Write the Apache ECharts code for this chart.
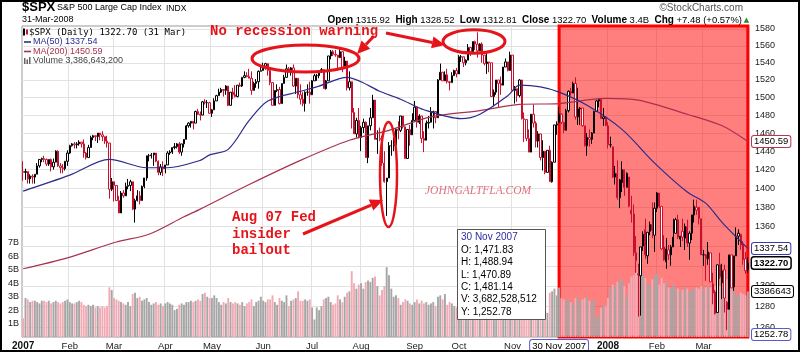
<!DOCTYPE html>
<html>
<head>
<meta charset="utf-8">
<script src="https://cdn.jsdelivr.net/npm/echarts@6/dist/echarts.min.js"></script>
<style>
  html, body { margin: 0; padding: 0; background: #fff; }
  #chart { width: 800px; height: 352px; }
</style>
</head>
<body>
<div id="chart"></div>
<script>
// market holidays inside the range, used to build the trading-day categories
const holidays = ['2007-01-15', '2007-02-19', '2007-04-06', '2007-05-28', '2007-07-04', '2007-09-03',
  '2007-11-22', '2007-12-25', '2008-01-01', '2008-01-21', '2008-02-18', '2008-03-21']
const firstDay = '2007-01-03'
const lastDay = '2008-03-31'
const monthNames = ['Jan', 'Feb', 'Mar', 'Apr', 'May', 'Jun', 'Jul', 'Aug', 'Sep', 'Oct', 'Nov', 'Dec']

const prevClose = 1418.3 // close of 29 Dec 2006, for the first bar colour

// daily [open, high, low, close]
const ohlc = [
  // Jan 2007
  [1418,1429,1408,1417],[1417,1421,1409,1418],[1418,1418,1405,1410],[1410,1415,1405,1413],[1413,1415,1405,1412],
  [1412,1415,1405,1415],[1415,1427,1415,1424],[1424,1431,1422,1431],[1431,1433,1428,1432],[1432,1435,1428,1431],
  [1431,1432,1424,1426],[1426,1431,1424,1431],[1431,1432,1418,1423],[1423,1432,1420,1428],[1428,1441,1428,1440],
  [1440,1441,1423,1424],[1424,1427,1416,1422],[1422,1426,1416,1421],[1421,1429,1419,1429],[1429,1441,1424,1438],
  // Feb
  [1438,1447,1437,1446],[1446,1449,1445,1448],[1448,1450,1443,1447],[1447,1450,1443,1448],[1448,1452,1446,1450],
  [1450,1450,1444,1448],[1448,1453,1433,1438],[1438,1439,1431,1433],[1433,1447,1433,1444],[1444,1457,1444,1455],
  [1455,1458,1452,1457],[1457,1457,1451,1456],[1456,1460,1449,1460],[1460,1460,1452,1458],[1458,1462,1451,1456],
  [1456,1456,1448,1451],[1451,1457,1444,1449],[1449,1449,1389,1399],[1399,1411,1397,1407],
  // Mar
  [1407,1407,1386,1403],[1403,1403,1387,1387],[1387,1392,1374,1374],[1374,1397,1374,1395],[1395,1398,1390,1392],
  [1392,1406,1392,1402],[1402,1410,1399,1403],[1403,1409,1397,1407],[1407,1407,1377,1378],[1378,1389,1364,1387],
  [1387,1398,1386,1392],[1392,1397,1383,1387],[1387,1403,1387,1402],[1402,1411,1400,1411],[1411,1435,1408,1435],
  [1435,1437,1429,1435],[1435,1438,1432,1436],[1436,1438,1424,1438],[1438,1438,1428,1429],[1429,1430,1414,1417],
  [1417,1426,1414,1423],[1423,1429,1413,1421],
  // Apr
  [1421,1425,1416,1425],[1425,1440,1425,1438],[1438,1441,1436,1439],[1439,1444,1437,1444],[1444,1449,1442,1445],
  [1445,1449,1443,1448],[1448,1450,1437,1439],[1439,1448,1435,1448],[1448,1453,1444,1453],[1453,1469,1453,1468],
  [1468,1472,1466,1471],[1471,1473,1466,1473],[1473,1473,1464,1471],[1471,1485,1471,1484],[1484,1487,1480,1481],
  [1481,1484,1474,1480],[1480,1496,1480,1495],[1495,1498,1492,1494],[1494,1497,1488,1494],[1494,1495,1482,1482],
  // May
  [1482,1487,1478,1486],[1486,1499,1486,1496],[1496,1503,1496,1502],[1502,1510,1502,1506],[1506,1511,1505,1509],
  [1509,1509,1501,1508],[1508,1514,1503,1513],[1513,1513,1490,1491],[1491,1506,1491,1506],[1506,1511,1498,1503],
  [1503,1514,1500,1501],[1501,1514,1500,1514],[1514,1517,1512,1513],[1513,1523,1512,1523],[1523,1530,1522,1525],
  [1525,1529,1523,1524],[1524,1533,1522,1522],[1522,1530,1503,1508],[1508,1518,1508,1516],[1516,1521,1511,1518],
  [1518,1531,1510,1530],[1530,1536,1530,1531],
  // Jun
  [1531,1540,1531,1536],[1536,1540,1532,1539],[1539,1539,1525,1531],[1531,1531,1514,1517],[1517,1517,1491,1491],
  [1491,1508,1491,1508],[1508,1515,1506,1509],[1509,1512,1492,1493],[1493,1516,1493,1516],[1516,1526,1516,1523],
  [1523,1538,1523,1533],[1533,1535,1529,1531],[1531,1535,1525,1534],[1534,1538,1512,1513],[1513,1522,1504,1522],
  [1522,1522,1499,1503],[1503,1515,1492,1498],[1498,1506,1490,1493],[1493,1507,1484,1506],[1506,1515,1502,1506],
  [1506,1518,1493,1503],
  // Jul
  [1503,1520,1503,1519],[1519,1527,1519,1525],[1525,1527,1519,1525],[1525,1530,1522,1530],[1530,1534,1528,1532],
  [1532,1532,1510,1510],[1510,1520,1509,1519],[1519,1548,1519,1548],[1548,1555,1544,1553],[1553,1555,1548,1550],
  [1550,1555,1547,1549],[1549,1549,1533,1546],[1546,1556,1546,1553],[1553,1553,1529,1534],[1534,1547,1534,1542],
  [1542,1542,1508,1511],[1511,1530,1508,1518],[1518,1518,1465,1483],[1483,1488,1459,1459],[1459,1477,1455,1474],
  [1474,1488,1454,1455],
  // Aug
  [1455,1468,1440,1466],[1466,1476,1460,1472],[1472,1473,1433,1433],[1433,1468,1427,1468],[1468,1488,1463,1477],
  [1477,1503,1477,1497],[1497,1497,1453,1453],[1453,1463,1437,1454],[1454,1466,1451,1453],[1453,1457,1424,1427],
  [1427,1440,1406,1407],[1407,1411,1371,1411],[1411,1450,1411,1446],[1446,1452,1435,1446],[1446,1455,1440,1447],
  [1447,1465,1447,1464],[1464,1473,1453,1463],[1463,1479,1461,1479],[1479,1479,1465,1467],[1467,1467,1432,1432],
  [1432,1464,1432,1464],[1464,1469,1446,1458],[1458,1482,1458,1474],
  // Sep
  [1474,1496,1474,1489],[1489,1489,1466,1472],[1472,1481,1470,1479],[1479,1479,1449,1454],[1454,1462,1439,1452],
  [1452,1474,1452,1471],[1471,1479,1465,1472],[1472,1489,1472,1484],[1484,1485,1465,1484],[1484,1484,1471,1477],
  [1477,1521,1477,1520],[1520,1539,1520,1529],[1529,1529,1519,1519],[1519,1530,1519,1526],[1526,1533,1516,1518],
  [1518,1518,1508,1517],[1517,1529,1517,1525],[1525,1532,1525,1531],[1531,1534,1523,1527],
  // Oct
  [1527,1549,1527,1547],[1547,1549,1541,1547],[1547,1547,1535,1540],[1540,1544,1537,1543],[1543,1562,1543,1558],
  [1558,1558,1548,1553],[1553,1565,1551,1565],[1565,1566,1555,1562],[1562,1576,1546,1554],[1554,1563,1554,1562],
  [1562,1564,1540,1549],[1549,1549,1537,1539],[1539,1553,1527,1541],[1541,1541,1529,1540],[1540,1540,1501,1501],
  [1501,1509,1490,1506],[1506,1520,1503,1520],[1520,1520,1489,1516],[1516,1524,1503,1514],[1514,1535,1514,1535],
  [1535,1545,1535,1541],[1541,1541,1530,1531],[1531,1553,1531,1549],
  // Nov
  [1549,1549,1507,1508],[1508,1513,1493,1510],[1510,1510,1495,1502],[1502,1521,1500,1520],[1520,1520,1475,1476],
  [1476,1483,1450,1475],[1475,1475,1451,1454],[1454,1464,1439,1439],[1439,1481,1439,1481],[1481,1492,1466,1471],
  [1471,1473,1444,1451],[1451,1462,1444,1459],[1459,1459,1430,1433],[1433,1452,1419,1440],[1440,1440,1415,1417],
  [1417,1441,1417,1441],[1441,1446,1407,1407],[1407,1429,1406,1428],[1428,1469,1428,1469],[1469,1473,1458,1470],
  [1471.83,1488.94,1470.89,1481.14],
  // Dec
  [1481,1482,1470,1472],[1472,1472,1460,1463],[1463,1487,1463,1485],[1485,1508,1483,1507],[1507,1511,1502,1505],
  [1505,1518,1505,1516],[1516,1523,1475,1478],[1478,1511,1469,1487],[1487,1489,1469,1488],[1488,1488,1467,1468],
  [1468,1468,1445,1446],[1446,1460,1435,1455],[1455,1464,1445,1453],[1453,1461,1448,1460],[1460,1485,1460,1484],
  [1484,1497,1484,1496],[1496,1499,1489,1498],[1498,1498,1476,1476],[1476,1488,1468,1478],[1478,1478,1468,1468],
  // Jan 2008
  [1468,1472,1443,1447],[1447,1456,1444,1447],[1445,1445,1411,1412],[1412,1424,1404,1416],[1416,1430,1388,1390],
  [1390,1410,1379,1409],[1406,1429,1396,1420],[1420,1420,1392,1401],[1401,1417,1401,1416],[1412,1412,1380,1381],
  [1377,1392,1364,1373],[1373,1383,1330,1333],[1333,1350,1313,1325],[1312,1322,1270,1311],[1310,1339,1271,1339],
  [1340,1355,1335,1352],[1357,1368,1327,1331],[1330,1354,1322,1354],[1355,1365,1351,1362],[1362,1385,1348,1356],
  [1351,1385,1334,1379],
  // Feb
  [1379,1396,1375,1395],[1395,1395,1379,1381],[1381,1381,1336,1337],[1339,1351,1325,1326],[1324,1348,1317,1337],
  [1336,1341,1326,1331],[1331,1341,1320,1339],[1339,1368,1339,1349],[1353,1369,1353,1367],[1367,1372,1347,1349],
  [1347,1350,1339,1350],[1355,1368,1345,1349],[1348,1363,1336,1360],[1360,1367,1339,1343],[1343,1355,1326,1353],
  [1353,1372,1346,1372],[1372,1388,1364,1381],[1377,1388,1372,1380],[1380,1380,1362,1368],[1368,1368,1331,1331],
  // Mar
  [1331,1336,1320,1331],[1331,1332,1305,1327],[1327,1344,1321,1334],[1333,1333,1304,1304],[1302,1313,1282,1293],
  [1294,1296,1272,1273],[1274,1321,1274,1321],[1321,1333,1307,1309],[1303,1322,1287,1315],[1316,1321,1274,1288],
  [1284,1285,1257,1277],[1277,1331,1277,1331],[1331,1331,1298,1298],[1299,1330,1295,1330],[1330,1359,1330,1350],
  [1350,1357,1341,1353],[1352,1352,1336,1341],[1341,1345,1321,1326],[1327,1334,1312,1315],[1315.92,1328.52,1312.81,1322.70]
]

// daily volume, billions of shares
const volumes = [
  1.4,2.9,2.8,2.6,2.7,2.7,2.6,2.5,2.7,2.7,2.6,2.7,2.5,2.6,2.7,2.6,2.5,2.6,2.7,2.8,
  2.6,2.5,2.5,2.6,2.7,2.6,2.4,2.3,2.4,2.3,2.4,2.2,2.3,2.2,2.3,2.2,2.3,3.7,3.5,
  2.9,2.8,2.7,2.6,2.5,2.4,2.6,2.3,3.2,3.3,2.9,3.0,2.7,2.8,2.9,2.6,2.4,2.5,2.6,2.4,2.5,2.3,
  2.5,2.6,2.5,2.4,2.0,2.1,2.4,2.5,2.4,2.6,2.6,2.7,2.6,2.7,2.8,2.7,3.2,3.3,3.0,2.9,
  2.9,3.1,2.9,2.6,2.4,2.6,2.5,2.9,2.6,2.5,2.6,2.5,2.4,2.6,2.3,2.5,2.6,2.8,2.3,2.6,2.7,3.0,
  2.7,2.6,2.8,2.8,3.1,2.6,2.4,2.9,2.7,2.6,3.1,2.3,2.7,2.8,2.9,3.4,2.7,2.7,2.8,2.7,2.8,
  2.2,1.3,2.2,2.0,2.3,2.8,2.9,3.0,2.6,2.4,2.5,3.1,2.8,2.6,3.0,3.3,3.4,4.9,4.0,3.6,3.9,
  4.0,3.6,4.1,4.2,4.1,4.4,4.5,3.8,3.1,3.5,3.8,5.2,4.6,3.6,3.0,3.1,2.9,2.4,2.6,2.8,2.7,2.5,2.4,
  2.6,2.8,2.5,2.7,2.5,2.6,2.4,2.5,2.6,2.3,3.0,3.1,2.8,3.2,2.4,2.6,2.5,2.3,2.2,
  2.7,2.6,2.5,2.4,2.5,2.2,2.6,2.8,3.4,2.8,2.9,2.8,3.0,2.9,3.5,3.2,3.0,3.1,2.9,2.7,2.8,2.9,3.2,
  3.5,3.3,3.1,3.0,3.6,3.9,3.2,3.0,3.3,3.4,3.2,3.3,3.1,3.5,3.4,1.8,3.3,3.4,3.6,3.1,3.68,
  2.9,2.8,2.7,2.8,2.6,2.5,2.9,3.0,2.7,2.8,2.9,3.0,2.7,2.6,2.8,1.4,1.6,2.2,2.4,2.3,
  2.9,3.7,3.9,3.8,4.1,4.3,4.2,3.8,3.0,4.0,4.5,4.6,4.8,5.2,5.0,4.6,4.4,4.0,3.8,4.3,4.6,
  4.7,3.9,4.4,4.0,4.1,3.7,3.6,3.9,3.7,3.6,3.4,3.5,3.7,3.6,3.4,3.5,3.6,3.7,3.6,3.8,
  3.6,3.7,3.8,3.7,3.9,3.8,4.2,3.8,3.9,4.1,4.3,4.0,3.8,3.6,3.2,3.1,3.3,3.2,3.1,3.39
]

// moving averages read at [trading-day index, value]
const ma50 = [[0,1397],[20,1414],[37,1431],[53,1422],[62,1422],[76,1430],[80,1436],[88,1442],[97,1474],
  [105,1496],[119,1507],[127,1513],[139,1523],[145,1518],[153,1507],[162,1498],[172,1486],[188,1476],
  [196,1481],[208,1502],[213,1514],[222,1512],[230,1506],[242,1491],[257,1464],[271,1427],[285,1396],
  [293,1384],[300,1364],[311,1337.54]]
const ma200 = [[0,1317],[19,1328],[40,1344],[54,1352],[69,1370],[76,1378],[97,1404],[119,1430],[140,1452],
  [157,1463],[175,1478],[196,1485],[213,1492],[230,1493],[250,1499],[264,1497],[285,1481],[300,1468],
  [311,1450.59]]

const priceTicks = [1260,1280,1300,1320,1340,1360,1380,1400,1420,1440,1460,1480,1500,1520,1540,1560,1580]
const volumeTicks = [1, 2, 3, 4, 5, 6, 7]

const RED = '#e5141b'
const FONT = 'Liberation Sans'
const lg = Math.log

function tradingDays(first, last) {
  const out = []
  const end = Date.parse(last + 'T00:00:00Z')
  for (let t = Date.parse(first + 'T00:00:00Z'); t <= end; t += 864e5) {
    const d = new Date(t)
    const s = d.toISOString().slice(0, 10)
    const wd = d.getUTCDay()
    if (wd !== 0 && wd !== 6 && holidays.indexOf(s) < 0) out.push(s)
  }
  return out
}
const dates = tradingDays(firstDay, lastDay)
const isMonthStart = i => i === 0 || dates[i].slice(0, 7) !== dates[i - 1].slice(0, 7)

const candleData = ohlc.map((d, i) => {
  const prev = i ? ohlc[i - 1][3] : prevClose
  const stroke = d[3] >= prev ? '#000000' : '#c8102e'
  return {
    value: [lg(d[0]), lg(d[3]), lg(d[2]), lg(d[1])],
    itemStyle: { color: '#ffffff', color0: stroke, borderColor: stroke, borderColor0: stroke },
  }
})
const volumeData = volumes.map((v, i) => {
  const prev = i ? ohlc[i - 1][3] : prevClose
  const up = ohlc[i][3] >= prev
  return { value: v * 1e9, itemStyle: { color: up ? '#a6a6a6' : '#f2aab5' } }
})

function boxLabel(text, border, bold, position) {
  return {
    show: true, position: position || 'end', formatter: text, distance: 3,
    fontFamily: FONT, fontSize: 9.5, color: '#000', fontWeight: bold ? 'bold' : 'normal',
    backgroundColor: '#fff', borderColor: border, borderWidth: bold ? 1.5 : 1,
    borderRadius: 2, padding: [1, 2, 0, 2], opacity: 1,
  }
}
const hiddenLine = { color: 'rgba(0,0,0,0)', width: 0, opacity: 1 }

function arrow(x1, y1, x2, y2, w) {
  const a = Math.atan2(y2 - y1, x2 - x1)
  const L = 13, H = 6
  const bx = x2 - L * Math.cos(a), by = y2 - L * Math.sin(a)
  return [
    { type: 'line', z: 100, shape: { x1, y1, x2: bx, y2: by }, style: { stroke: RED, lineWidth: w } },
    { type: 'polygon', z: 100, shape: { points: [[x2, y2],
      [bx - H * Math.sin(a), by + H * Math.cos(a)], [bx + H * Math.sin(a), by - H * Math.cos(a)]] },
      style: { fill: RED } },
  ]
}
function txt(x, y, text, font, fill, align) {
  return { type: 'text', z: 100, x, y, style: { text, font, fill, textAlign: align || 'left', textVerticalAlign: 'middle' } }
}
function ellipse(cx, cy, rx, ry, w) {
  return { type: 'ellipse', z: 100, shape: { cx, cy, rx, ry }, style: { fill: 'none', stroke: RED, lineWidth: w } }
}

const tipLines = ['O: 1,471.83', 'H: 1,488.94', 'L: 1,470.89', 'C: 1,481.14', 'V: 3,682,528,512', 'Y: 1,252.78']

const graphic = [
  { type: 'rect', z: 100, silent: true, shape: { x: 1, y: 1, width: 798, height: 350 },
    style: { fill: 'none', stroke: '#000', lineWidth: 2 } },
  txt(22, 7.5, '$SPX', 'bold 13px "Liberation Sans"', '#000'),
  txt(57, 8, 'S&P 500 Large Cap Index', '9px "Liberation Sans"', '#000'),
  txt(166, 8.5, 'INDX', '8.5px "Liberation Sans"', '#000'),
  txt(22, 20, '31-Mar-2008', '9px "Liberation Sans"', '#000'),
  txt(743, 8.5, '\u00a9StockCharts.com', '10px "Liberation Sans"', '#555', 'right'),
  {
    type: 'text', z: 100, x: 742, y: 20,
    style: {
      text: '{b|Open} 1315.92  {b|High} 1328.52  {b|Low} 1312.81  {b|Close} 1322.70  {b|Volume} 3.4B  {b|Chg} +7.48 (+0.57%)',
      font: '9.5px "Liberation Sans"', fill: '#000', textAlign: 'right', textVerticalAlign: 'middle',
      rich: { b: { fontFamily: FONT, fontWeight: 'bold', fontSize: 10 } },
    },
  },
  txt(746.5, 20, '\u25b2', '7px "DejaVu Sans"', '#2a8a2a', 'center'),
  // legend
  { type: 'rect', z: 100, shape: { x: 23, y: 28.5, width: 2, height: 7 }, style: { fill: '#000' } },
  { type: 'rect', z: 100, shape: { x: 26, y: 29.5, width: 2, height: 5 }, style: { fill: '#c8102e' } },
  txt(29, 32.5, '$SPX (Daily) 1322.70 (31 Mar)', '9px "DejaVu Sans Mono"', '#000'),
  { type: 'line', z: 100, shape: { x1: 24, y1: 42, x2: 31, y2: 42 }, style: { stroke: '#2c2c8a', lineWidth: 1.6 } },
  txt(33, 42, 'MA(50) 1337.54', '9px "Liberation Sans"', '#2c2c8a'),
  { type: 'line', z: 100, shape: { x1: 24, y1: 51.5, x2: 31, y2: 51.5 }, style: { stroke: '#a8324e', lineWidth: 1.6 } },
  txt(33, 51.5, 'MA(200) 1450.59', '9px "Liberation Sans"', '#a8324e'),
  { type: 'rect', z: 100, shape: { x: 24, y: 58, width: 1.5, height: 6 }, style: { fill: '#666' } },
  { type: 'rect', z: 100, shape: { x: 26.5, y: 59.5, width: 1.5, height: 4.5 }, style: { fill: '#666' } },
  { type: 'rect', z: 100, shape: { x: 29, y: 57, width: 1.5, height: 7 }, style: { fill: '#666' } },
  txt(33, 61, 'Volume 3,386,643,200', '9px "Liberation Sans"', '#444'),
  // annotations
  txt(210, 31, 'No recession warning', 'bold 14px "Liberation Mono"', RED),
  ellipse(305.5, 58.5, 53.5, 13.5, 3),
  ellipse(474, 41.5, 31, 11.7, 3),
  ellipse(388.5, 174.5, 8.5, 52.5, 2.5),
  ...arrow(374, 36, 357, 54, 3),
  ...arrow(386, 33, 445, 45, 3),
  ...arrow(303, 234, 383, 200, 3),
  txt(232, 217, 'Aug 07 Fed', 'bold 14px "Liberation Mono"', RED),
  txt(232, 234, 'insider', 'bold 14px "Liberation Mono"', RED),
  txt(232, 250.5, 'bailout', 'bold 14px "Liberation Mono"', RED),
  txt(425, 191, 'JOHNGALTFLA.COM', 'italic 11.5px "Liberation Serif"', '#e0707e'),
  // data box for the crosshair day
  { type: 'rect', z: 100, shape: { x: 457.5, y: 229.5, width: 88, height: 90 },
    style: { fill: '#fff', stroke: '#555', lineWidth: 1 } },
  txt(461, 237.5, '30 Nov 2007', '10px "Liberation Sans"', '#2b2ba0'),
  ...tipLines.map((t, k) => txt(461, 250 + k * 12.4, t, '10px "Liberation Sans"', '#000')),
]

const chart = echarts.init(document.getElementById('chart'))
chart.setOption({
  animation: false,
  textStyle: { fontFamily: FONT },
  grid: { left: 22, right: 51, top: 26, bottom: 15, show: true, borderColor: '#9a9a9a', borderWidth: 1 },
  xAxis: {
    type: 'category', data: dates, boundaryGap: true,
    axisLine: { show: false }, axisTick: { show: false },
    axisLabel: {
      interval: i => isMonthStart(i), margin: 4, fontSize: 9.5, color: '#222',
      formatter: v => {
        const m = +v.slice(5, 7)
        return m === 1 ? '{y|' + v.slice(0, 4) + '}' : monthNames[m - 1]
      },
      rich: { y: { fontWeight: 'bold', fontSize: 10, color: '#111' } },
    },
    splitLine: { show: true, interval: i => i > 0 && isMonthStart(i), lineStyle: { color: '#e2e2e2' } },
  },
  yAxis: [
    {
      type: 'value', position: 'right', min: lg(1250.5), max: lg(1583.6),
      axisLine: { show: false },
      axisTick: { show: false, customValues: priceTicks.map(lg) },
      axisLabel: { customValues: priceTicks.map(lg), formatter: v => String(Math.round(Math.exp(v))),
        margin: 6, fontSize: 9, color: '#222' },
      splitLine: { show: true, lineStyle: { color: '#e2e2e2' } },
    },
    {
      type: 'value', position: 'left', min: 0, max: 23.16e9,
      axisLine: { show: false },
      axisTick: { show: false, customValues: volumeTicks.map(v => v * 1e9) },
      axisLabel: { customValues: volumeTicks.map(v => v * 1e9), formatter: v => Math.round(v / 1e9) + 'B',
        margin: 3, fontSize: 9, color: '#222' },
      splitLine: { show: false },
    },
  ],
  series: [
    {
      type: 'bar', name: 'Volume', yAxisIndex: 1, z: 1, data: volumeData, barCategoryGap: '18%',
      markLine: {
        silent: true, symbol: ['none', 'none'], lineStyle: hiddenLine, precision: 8,
        data: [{ yAxis: 3386643200, label: boxLabel('3386643', '#000') }],
      },
    },
    {
      type: 'candlestick', name: '$SPX', z: 2, data: candleData, barWidth: 1.8,
      itemStyle: { borderWidth: 1 },
      markLine: {
        silent: true, symbol: ['none', 'none'], lineStyle: hiddenLine, precision: 8,
        data: [
          { yAxis: lg(1450.59), label: boxLabel('1450.59', '#c03050') },
          { yAxis: lg(1337.54), label: boxLabel('1337.54', '#3a3ab0') },
          { yAxis: lg(1322.70), label: boxLabel('1322.70', '#000', true) },
          { yAxis: lg(1252.78), label: boxLabel('1252.78', '#5a5ad0') },
          { xAxis: '2007-11-30', label: boxLabel('30 Nov 2007', '#5a5ad0', false, 'start') },
        ],
      },
    },
    {
      type: 'line', name: 'MA(200)', z: 3, data: ma200.map(p => [p[0], lg(p[1])]), smooth: 0.3,
      showSymbol: false, lineStyle: { color: '#a8324e', width: 1.2 },
    },
    {
      type: 'line', name: 'MA(50)', z: 3, data: ma50.map(p => [p[0], lg(p[1])]), smooth: 0.3,
      showSymbol: false, lineStyle: { color: '#2c2c8a', width: 1.2 },
    },
    {
      // translucent red overlay, on its own layer so it sits above candles and volume
      type: 'line', name: 'shade', zlevel: 1, z: 10, silent: true, data: ohlc.map(d => lg(d[3])),
      showSymbol: false, lineStyle: { opacity: 0 },
      markArea: {
        silent: true,
        itemStyle: { color: 'rgba(255,0,0,0.5)', borderColor: '#ff0000', borderWidth: 3 },
        data: [[{ xAxis: '2007-11-30' }, { xAxis: '2008-03-31' }]],
      },
    },
  ],
  graphic,
})
</script>
</body>
</html>
